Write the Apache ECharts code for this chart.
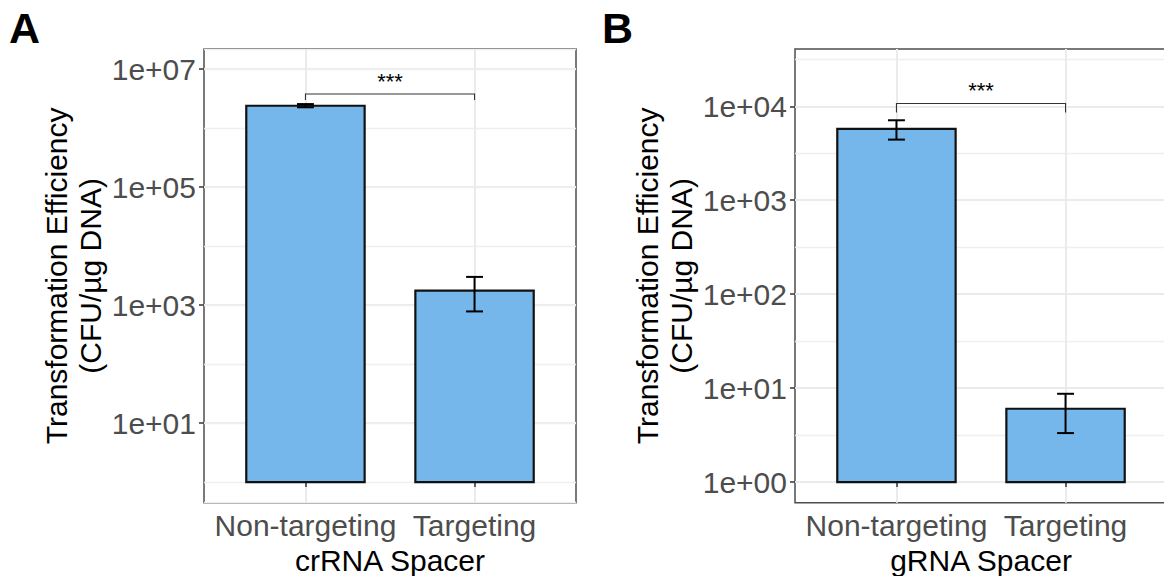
<!DOCTYPE html>
<html>
<head>
<meta charset="utf-8">
<script src="https://cdn.jsdelivr.net/npm/echarts@6/dist/echarts.min.js"></script>
<style>
  html, body { margin: 0; padding: 0; background: #ffffff; }
  #chart { width: 1164px; height: 576px; }
</style>
</head>
<body>
<div id="chart"></div>
<script>
// Spacer groups shown on both panels
const categories = ['Non-targeting', 'Targeting'];

// Panel A: crRNA spacer, transformation efficiency (CFU/µg DNA)
const crRNAMean = [2.39e6, 1.75e3];
const crRNALow  = [2.25e6, 7.8e2];
const crRNAHigh = [2.55e6, 3.0e3];

// Panel B: gRNA spacer, transformation efficiency (CFU/µg DNA)
const gRNAMean = [5.74e3, 6.03];
const gRNALow  = [4.42e3, 3.32];
const gRNAHigh = [7.1e3, 8.7];

// Labelled y-axis breaks
const crRNATicks = [1e1, 1e3, 1e5, 1e7];
const gRNATicks  = [1e0, 1e1, 1e2, 1e3, 1e4];

// Significance brackets: [bracket height, tip end]
const crRNABracket = [3.77e6, 3.0e6];
const gRNABracket  = [1.07e4, 8.6e3];
const sigLabel = '***';

const panelLetters = ['A', 'B'];
const xTitles = ['crRNA Spacer', 'gRNA Spacer'];
const yTitle = 'Transformation Efficiency\n(CFU/µg DNA)';

const FONT = "'Liberation Sans', Arial, Helvetica, sans-serif";
const TEXT_SIZE = 30;
const BAR_FILL = '#75b6eb';
const BAR_HALF = 0.35;   // half bar width, in category units
const CAP_HALF = 0.05;   // half error-bar cap width

const log10 = Math.log10;

function expLabel(v) {
  const e = Math.round(v);
  if (Math.abs(v - e) > 1e-6) return '';
  return '1e' + (e < 0 ? '-' : '+') + String(Math.abs(e)).padStart(2, '0');
}

function barRender(params, api) {
  const x = api.value(0);
  const mean = api.value(1), lo = api.value(2), hi = api.value(3);
  const p0 = api.coord([x - BAR_HALF, 0]);      // base at 1 (log10 = 0)
  const p1 = api.coord([x + BAR_HALF, mean]);
  const pLo = api.coord([x, lo]);
  const pHi = api.coord([x, hi]);
  const cl = api.coord([x - CAP_HALF, lo])[0];
  const cr = api.coord([x + CAP_HALF, lo])[0];
  const errStyle = { stroke: '#000000', lineWidth: 2 };
  return {
    type: 'group',
    children: [
      { type: 'rect',
        shape: { x: p0[0], y: p1[1], width: p1[0] - p0[0], height: p0[1] - p1[1] },
        style: { fill: BAR_FILL, stroke: '#111111', lineWidth: 2.2 } },
      { type: 'line', shape: { x1: pLo[0], y1: pLo[1], x2: pHi[0], y2: pHi[1] }, style: errStyle },
      { type: 'line', shape: { x1: cl, y1: pLo[1], x2: cr, y2: pLo[1] }, style: errStyle },
      { type: 'line', shape: { x1: cl, y1: pHi[1], x2: cr, y2: pHi[1] }, style: errStyle }
    ]
  };
}

function bracketRender(params, api) {
  const x1 = api.value(0), y = api.value(1), x2 = api.value(2), tip = api.value(3);
  const a = api.coord([x1, tip]);
  const b = api.coord([x1, y]);
  const c = api.coord([x2, y]);
  const d = api.coord([x2, tip]);
  return {
    type: 'group',
    children: [
      { type: 'polyline', shape: { points: [a, b, c, d] },
        style: { stroke: '#333333', lineWidth: 1.1, fill: null } },
      { type: 'text',
        x: (b[0] + c[0]) / 2, y: b[1] - 13,
        style: { text: sigLabel, fontSize: 22, fontFamily: FONT, fill: '#000000',
                 align: 'center', verticalAlign: 'middle' } }
    ]
  };
}

function barData(mean, low, high) {
  return categories.map((c, i) => [i + 1, log10(mean[i]), log10(low[i]), log10(high[i])]);
}

function xAxisFor(i) {
  return {
    type: 'value', gridIndex: i, min: 0.4, max: 2.6, minInterval: 1, maxInterval: 1,
    axisLine: { show: false },
    axisTick: { show: true, length: 5, customValues: [1, 2], lineStyle: { color: '#333333', width: 1.5 } },
    axisLabel: {
      customValues: [1, 2],
      formatter: v => (Math.abs(v - Math.round(v)) < 1e-6 && categories[Math.round(v) - 1]) || '',
      fontSize: TEXT_SIZE, color: '#4d4d4d', fontFamily: FONT, margin: 8
    },
    splitLine: { show: true, lineStyle: { color: '#ebebeb', width: 2 } },
    name: xTitles[i], nameLocation: 'middle', nameGap: 40,
    nameTextStyle: { fontSize: TEXT_SIZE, color: '#000000', fontFamily: FONT }
  };
}

function mainYAxis(gridIndex, range, ticks, withMinor) {
  const tv = ticks.map(log10);
  return {
    type: 'value', gridIndex: gridIndex, min: range[0], max: range[1],
    minInterval: 1, maxInterval: 1,
    axisLine: { show: false },
    axisTick: { show: true, length: 5, customValues: tv, lineStyle: { color: '#333333', width: 1.5 } },
    axisLabel: {
      customValues: tv,
      formatter: v => tv.some(t => Math.abs(t - v) < 1e-6) ? expLabel(v) : '',
      fontSize: TEXT_SIZE, color: '#4d4d4d', fontFamily: FONT, margin: 8
    },
    splitLine: { show: true, lineStyle: { color: '#ebebeb', width: 2 } },
    minorTick: { show: false, splitNumber: 2 },
    minorSplitLine: { show: withMinor, lineStyle: { color: '#efefef', width: 1.3 } },
    name: yTitle, nameLocation: 'middle', nameRotate: 90, nameGap: 97,
    nameTextStyle: { fontSize: TEXT_SIZE, lineHeight: 34, color: '#000000', fontFamily: FONT, align: 'center' }
  };
}

const crRNARange = [-0.35, 7.34];
const gRNARange = [-0.22, 4.61];

const option = {
  animation: false,
  backgroundColor: '#ffffff',
  textStyle: { fontFamily: FONT },
  grid: [
    { left: 204, top: 49, width: 372, height: 453.7, show: true, borderColor: '#4d4d4d', borderWidth: 1.5,
      backgroundColor: 'transparent', containLabel: false, outerBoundsMode: 'none' },
    { left: 795, top: 49, width: 372, height: 453.7, show: true, borderColor: '#4d4d4d', borderWidth: 1.5,
      backgroundColor: 'transparent', containLabel: false, outerBoundsMode: 'none' }
  ],
  xAxis: [xAxisFor(0), xAxisFor(1)],
  yAxis: [
    mainYAxis(0, crRNARange, crRNATicks, false),
    { // unlabelled decade lines between the labelled breaks
      type: 'value', gridIndex: 0, min: crRNARange[0], max: crRNARange[1],
      minInterval: 1, maxInterval: 1,
      axisLine: { show: false }, axisTick: { show: false }, axisLabel: { show: false },
      splitLine: { show: true, lineStyle: { color: '#efefef', width: 1.3 } }
    },
    mainYAxis(1, gRNARange, gRNATicks, true)
  ],
  graphic: panelLetters.map((t, i) => ({
    type: 'text', left: i === 0 ? 9 : 602, top: 6,
    style: { text: t, fontSize: 43, fontWeight: 'bold', fontFamily: FONT, fill: '#000000' }
  })),
  series: [
    { type: 'custom', xAxisIndex: 0, yAxisIndex: 0, renderItem: barRender,
      data: barData(crRNAMean, crRNALow, crRNAHigh), z: 5 },
    { type: 'custom', xAxisIndex: 0, yAxisIndex: 0, renderItem: bracketRender,
      data: [[1, log10(crRNABracket[0]), 2, log10(crRNABracket[1])]], z: 5 },
    { type: 'custom', xAxisIndex: 1, yAxisIndex: 2, renderItem: barRender,
      data: barData(gRNAMean, gRNALow, gRNAHigh), z: 5 },
    { type: 'custom', xAxisIndex: 1, yAxisIndex: 2, renderItem: bracketRender,
      data: [[1, log10(gRNABracket[0]), 2, log10(gRNABracket[1])]], z: 5 }
  ]
};

const chart = echarts.init(document.getElementById('chart'), null, { renderer: 'svg' });
chart.setOption(option);
</script>
</body>
</html>
